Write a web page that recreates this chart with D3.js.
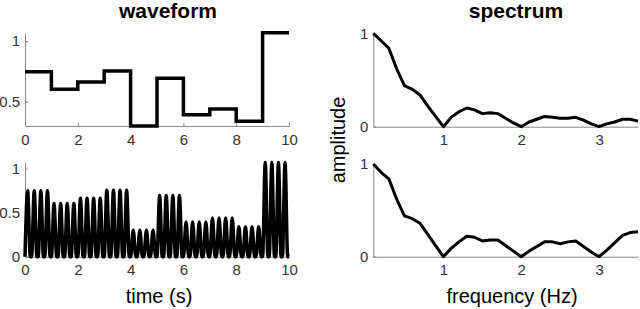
<!DOCTYPE html>
<html>
<head>
<meta charset="utf-8">
<script src="https://cdn.jsdelivr.net/npm/d3@7"></script>
<style>
  body { margin: 0; background: #fff; }
  svg { display: block; font-family: "Liberation Sans", Arial, sans-serif; }
  .tick text { fill: #333; font-size: 15px; }
  .domain, .tick line { stroke: #888; }
</style>
</head>
<body>
<svg id="chart" width="640" height="309"></svg>
<script>
// step envelope (one value per second)
const stepTimes = [0, 1, 2, 3, 4, 5, 6, 7, 8, 9];
const stepValues = [0.748, 0.604, 0.664, 0.754, 0.30, 0.694, 0.393, 0.44, 0.339, 1.07];

// modulated waveform: peak of each 4 Hz cycle
const cycleStarts = [0, 0.25, 0.5, 0.75, 1, 1.25, 1.5, 1.75, 2, 2.25, 2.5, 2.75, 3, 3.25, 3.5, 3.75,
  4, 4.25, 4.5, 4.75, 5, 5.25, 5.5, 5.75, 6, 6.25, 6.5, 6.75, 7, 7.25, 7.5, 7.75,
  8, 8.25, 8.5, 8.75, 9, 9.25, 9.5, 9.75];
const cyclePeaks = [0.748, 0.748, 0.748, 0.748, 0.604, 0.604, 0.604, 0.604,
  0.664, 0.664, 0.664, 0.664, 0.754, 0.754, 0.754, 0.754,
  0.30, 0.30, 0.30, 0.30, 0.694, 0.694, 0.694, 0.694,
  0.393, 0.393, 0.393, 0.393, 0.44, 0.44, 0.44, 0.44,
  0.339, 0.339, 0.339, 0.339, 1.07, 1.07, 1.07, 1.07];

// spectra, 0.1 Hz resolution
const freqs = [0.1, 0.2, 0.3, 0.4, 0.5, 0.6, 0.7, 0.8, 0.9, 1.0, 1.1, 1.2, 1.3, 1.4, 1.5, 1.6, 1.7, 1.8,
  1.9, 2.0, 2.1, 2.2, 2.3, 2.4, 2.5, 2.6, 2.7, 2.8, 2.9, 3.0, 3.1, 3.2, 3.3, 3.4, 3.5];
const specTop = [1.0, 0.92, 0.84, 0.62, 0.44, 0.40, 0.34, 0.22, 0.11, 0.0, 0.10, 0.16, 0.20, 0.18,
  0.14, 0.15, 0.14, 0.09, 0.04, 0.0, 0.05, 0.08, 0.11, 0.10, 0.09, 0.09, 0.10, 0.07, 0.03, 0.0,
  0.03, 0.05, 0.08, 0.08, 0.06];
const specBottom = [1.0, 0.91, 0.84, 0.62, 0.44, 0.41, 0.36, 0.24, 0.12, 0.0, 0.09, 0.16, 0.22, 0.21,
  0.17, 0.18, 0.18, 0.12, 0.06, 0.0, 0.06, 0.11, 0.16, 0.16, 0.14, 0.16, 0.17, 0.11, 0.05, 0.0,
  0.07, 0.15, 0.23, 0.26, 0.27];

const timeTicks = [0, 2, 4, 6, 8, 10];
const freqTicks = [1, 2, 3];

const svg = d3.select('#chart');

function drawAxes(x, y, xTicks, yTicks) {
  const g = svg.append('g');
  g.append('g')
    .attr('transform', `translate(0,${y.range()[0]})`)
    .call(d3.axisBottom(x).tickValues(xTicks).tickSizeInner(-3).tickSizeOuter(0).tickPadding(8).tickFormat(d3.format('')));
  g.append('g')
    .attr('transform', `translate(${x.range()[0]},0)`)
    .call(d3.axisLeft(y).tickValues(yTicks).tickSizeInner(-3).tickSizeOuter(0).tickPadding(5).tickFormat(d3.format('')));
  g.selectAll('.domain').attr('stroke', '#888')
  g.selectAll('.tick line').attr('stroke', '#888')
  return g
}

// top left: envelope
const xTL = d3.scaleLinear().domain([0, 10]).range([25, 289]);
const yTL = d3.scaleLinear().domain([0.3, 1.07]).range([126, 32.7]);
drawAxes(xTL, yTL, timeTicks, [0.5, 1]);
const stepData = stepTimes.map((t, i) => ({t: t, v: stepValues[i]}));
stepData.push({t: 10, v: stepValues[stepValues.length - 1]});
svg.append('path')
  .datum(stepData)
  .attr('fill', 'none')
  .attr('stroke', '#000')
  .attr('stroke-width', 3.5)
  .attr('d', d3.line().x(d => xTL(d.t)).y(d => yTL(d.v)).curve(d3.curveStepAfter));

// bottom left: modulated waveform
const xBL = d3.scaleLinear().domain([0, 10]).range([25, 289]);
const yBL = d3.scaleLinear().domain([0, 1.07]).range([256.7, 162.5]);
drawAxes(xBL, yBL, timeTicks, [0, 0.5, 1]);
const wavePts = [];
cycleStarts.forEach((t0, i) => {
  wavePts.push({t: t0, v: 0});
  wavePts.push({t: t0 + 0.1, v: cyclePeaks[i]});
  wavePts.push({t: t0 + 0.2, v: 0});
});
wavePts.push({t: 10, v: 0});
svg.append('path')
  .datum(wavePts)
  .attr('fill', 'none')
  .attr('stroke', '#000')
  .attr('stroke-width', 3.5)
  .attr('stroke-linejoin', 'round')
  .attr('d', d3.line().x(d => xBL(d.t)).y(d => yBL(d.v)).curve(d3.curveMonotoneX));

// right: spectra
const xR = d3.scaleLinear().domain([0.1, 3.5]).range([373.3, 638]);
const yTR = d3.scaleLinear().domain([0, 1]).range([126.7, 33.3]);
const yBR = d3.scaleLinear().domain([0, 1]).range([256.7, 164]);
drawAxes(xR, yTR, freqTicks, [0, 1]);
drawAxes(xR, yBR, freqTicks, [0, 1]);
[[specTop, yTR], [specBottom, yBR]].forEach(([vals, y]) => {
  svg.append('path')
    .datum(vals)
    .attr('fill', 'none')
    .attr('stroke', '#000')
    .attr('stroke-width', 3)
    .attr('stroke-linejoin', 'round')
    .attr('d', d3.line().x((d, i) => xR(freqs[i])).y(d => y(d)));
});

// titles and labels
svg.append('text').attr('x', 168).attr('y', 18).attr('text-anchor', 'middle')
  .attr('font-size', 21).attr('font-weight', 'bold').text('waveform');
svg.append('text').attr('x', 516).attr('y', 18).attr('text-anchor', 'middle')
  .attr('font-size', 21).attr('font-weight', 'bold').text('spectrum');
svg.append('text').attr('x', 159).attr('y', 303).attr('text-anchor', 'middle')
  .attr('font-size', 20).text('time (s)');
svg.append('text').attr('x', 512).attr('y', 303).attr('text-anchor', 'middle')
  .attr('font-size', 20).text('frequency (Hz)');
svg.append('text').attr('transform', 'translate(345,140) rotate(-90)').attr('text-anchor', 'middle')
  .attr('font-size', 20).text('amplitude');
</script>
</body>
</html>
